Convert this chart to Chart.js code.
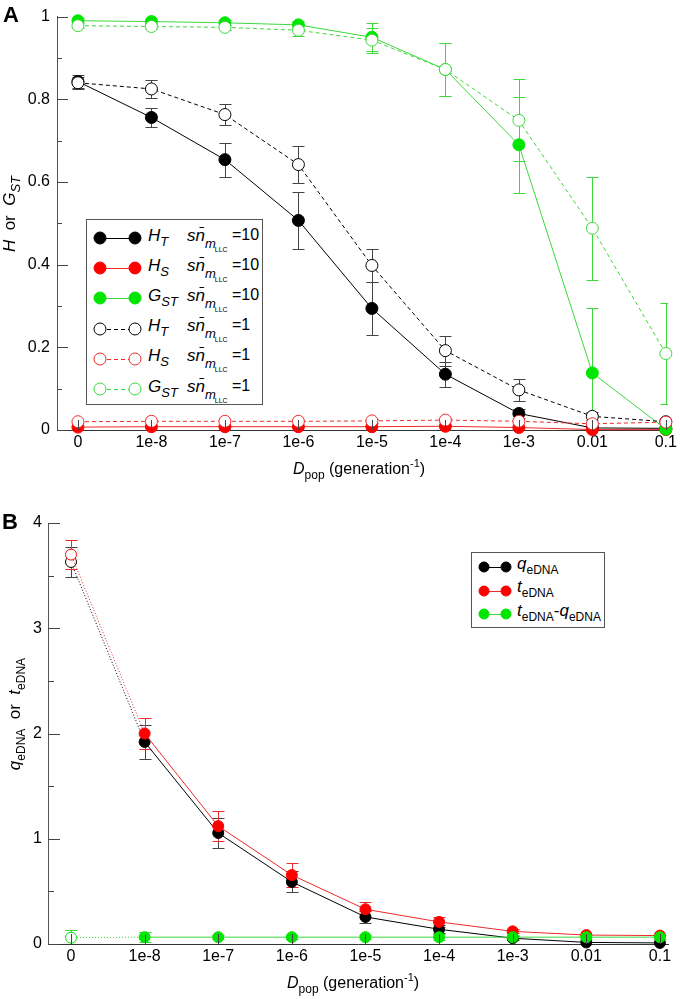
<!DOCTYPE html>
<html>
<head>
<meta charset="utf-8">
<script src="https://cdn.jsdelivr.net/npm/chart.js@4.4.1/dist/chart.umd.min.js"></script>
<style>
  body { margin: 0; background: #fff; font-family: "Liberation Sans", Arial, sans-serif; color: #000; }
  #wrap { position: relative; width: 680px; height: 999px; overflow: hidden; }
  canvas { position: absolute; left: 0; }
  .abs { position: absolute; white-space: nowrap; line-height: 1; }
  .letter { font-weight: bold; font-size: 22px; }
  .ttl { font-size: 16px; }
  .ytl { font-size: 17px; }
  .it { font-style: italic; }
  .sub { position: relative; font-size: 12px; top: 5px; }
  .sup { position: relative; font-size: 11px; top: -7px; }
  .lgbox { position: absolute; border: 1px solid #555; background: #fff; box-sizing: border-box; }
  .lgbox svg { position: absolute; }
</style>
</head>
<body>
<div id="wrap">
  <canvas id="chartA" width="680" height="500" style="top:0"></canvas>
  <canvas id="chartB" width="680" height="499" style="top:500px"></canvas>

  <div class="abs letter" style="left:3px;top:4px">A</div>
  <div class="abs letter" style="left:2px;top:511px">B</div>

  <div class="abs ttl" style="left:293px;top:461px"><span class="it">D</span><span class="sub">pop</span> (generation<span class="sup">-1</span>)</div>
  <div class="abs ttl" style="left:287px;top:975px"><span class="it">D</span><span class="sub">pop</span> (generation<span class="sup">-1</span>)</div>

  <div class="abs ytl" style="left:9px;top:214px;transform:translate(-50%,-50%) rotate(-90deg)"><span class="it">H</span>&nbsp; or &nbsp;<span class="it">G</span><span class="sub it" style="font-size:13px">ST</span></div>
  <div class="abs ytl" style="left:14px;top:714px;transform:translate(-50%,-50%) rotate(-90deg)"><span class="it">q</span><span class="sub">eDNA</span>&nbsp; or &nbsp;<span class="it">t</span><span class="sub">eDNA</span></div>

  <div id="legA" class="lgbox" style="left:86px;top:219px;width:177px;height:186px"></div>
  <div id="legB" class="lgbox" style="left:471px;top:552px;width:134px;height:76px"></div>
</div>

<script>
// x categories (dispersal rate)
const doseLabels = ['0', '1e-8', '1e-7', '1e-6', '1e-5', '1e-4', '1e-3', '0.01', '0.1'];

// panel A, s*n_mLLC = 10
const hT10 = [0.843, 0.756, 0.654, 0.507, 0.294, 0.135, 0.040, 0.005, 0.004];
const hT10Err = [0.016, 0.023, 0.041, 0.068, 0.065, 0.030, 0.010, 0.003, 0.003];
const hS10 = [0.007, 0.008, 0.008, 0.008, 0.008, 0.009, 0.006, 0.001, 0.001];
const hS10Err = [0.003, 0.003, 0.003, 0.003, 0.003, 0.003, 0.003, 0.002, 0.002];
const gST10 = [0.990, 0.988, 0.985, 0.980, 0.950, 0.872, 0.690, 0.138, 0.002];
const gST10Err = [0.006, 0.006, 0.006, 0.010, 0.034, 0.065, 0.116, 0.157, 0.004];

// panel A, s*n_mLLC = 1
const hT1 = [0.840, 0.825, 0.763, 0.642, 0.398, 0.192, 0.097, 0.033, 0.020];
const hT1Err = [0.015, 0.021, 0.025, 0.045, 0.040, 0.036, 0.026, 0.010, 0.010];
const hS1 = [0.020, 0.021, 0.021, 0.021, 0.022, 0.024, 0.021, 0.015, 0.019];
const hS1Err = [0.004, 0.004, 0.004, 0.004, 0.004, 0.004, 0.004, 0.004, 0.004];
const gST1 = [0.978, 0.976, 0.974, 0.967, 0.943, 0.872, 0.749, 0.488, 0.185];
const gST1Err = [0.006, 0.006, 0.006, 0.014, 0.030, 0.065, 0.099, 0.124, 0.121];

// panel B
const qEDNA = [3.63, 1.92, 1.055, 0.59, 0.257, 0.14, 0.055, 0.015, 0.010];
const qEDNAErr = [0.14, 0.16, 0.14, 0.10, 0.06, 0.04, 0.02, 0.01, 0.01];
const tEDNA = [3.70, 2.00, 1.12, 0.655, 0.33, 0.21, 0.12, 0.085, 0.080];
const tEDNAErr = [0.14, 0.15, 0.14, 0.11, 0.07, 0.05, 0.02, 0.01, 0.01];
const diffEDNA = [0.06, 0.065, 0.065, 0.065, 0.065, 0.065, 0.065, 0.065, 0.065];
const diffEDNAErr = [0.07, 0.05, 0.02, 0.02, 0.02, 0.03, 0.02, 0.02, 0.02];

const FONT = '"Liberation Sans", Arial, sans-serif';
const BLACK = '#000', RED = '#ff0000', GREEN = '#00e600';
const RED_LINE = '#ee2a2a', GREEN_LINE = '#3cd83c';

const pts = (arr) => arr.map((v, i) => ({ x: i, y: v }));

// error bars drawn under the markers
const errorBars = {
  id: 'errorBars',
  beforeDatasetsDraw(chart, args, opts) {
    const { ctx, chartArea: a, scales: { y } } = chart;
    ctx.save();
    ctx.beginPath();
    ctx.rect(a.left, a.top - 2, a.right - a.left, a.bottom - a.top + 2);
    ctx.clip();
    chart.data.datasets.forEach((ds, di) => {
      if (!ds.errors) return;
      const meta = chart.getDatasetMeta(di);
      ctx.strokeStyle = ds.errorColor;
      ctx.lineWidth = 1;
      ctx.beginPath();
      meta.data.forEach((pt, i) => {
        const e = ds.errors[i];
        if (!e) return;
        const v = ds.data[i].y;
        const x = Math.round(pt.x) + 0.5;
        const t = Math.round(y.getPixelForValue(v + e)) + 0.5;
        const b = Math.round(y.getPixelForValue(v - e)) + 0.5;
        ctx.moveTo(x, t); ctx.lineTo(x, b);
        if (b - t > 3) {
          ctx.moveTo(x - opts.cap, t); ctx.lineTo(x + opts.cap, t);
          ctx.moveTo(x - opts.cap, b); ctx.lineTo(x + opts.cap, b);
        }
      });
      ctx.stroke();
    });
    ctx.restore();
  }
};

// tick marks pointing into the plot
const innerTicks = {
  id: 'innerTicks',
  afterDraw(chart, args, opts) {
    const { ctx, scales: { x, y } } = chart;
    ctx.save();
    ctx.strokeStyle = opts.color;
    ctx.lineWidth = 1;
    ctx.beginPath();
    const n = Math.round((y.max - y.min) / opts.minor);
    const every = Math.round(opts.major / opts.minor);
    for (let k = 0; k <= n; k++) {
      const py = Math.round(y.getPixelForValue(y.min + k * opts.minor)) + 0.5;
      const len = k % every === 0 ? opts.majorLen : opts.minorLen;
      ctx.moveTo(y.right, py); ctx.lineTo(y.right + len, py);
    }
    doseLabels.forEach((_, i) => {
      const px = Math.round(x.getPixelForValue(i)) + 0.5;
      ctx.moveTo(px, x.top); ctx.lineTo(px, x.top - opts.xLen);
    });
    ctx.stroke();
    ctx.restore();
  }
};

function xAxis(min, max, h) {
  return {
    type: 'linear', min, max,
    grid: { display: false, drawTicks: false },
    border: { display: true, color: '#333', width: 1 },
    afterBuildTicks: (s) => { s.ticks = doseLabels.map((_, i) => ({ value: i })); },
    afterFit: (s) => { s.height = h; },
    ticks: {
      callback: (v) => doseLabels[v],
      color: '#000', font: { family: FONT, size: 16 },
      padding: 3, maxRotation: 0, autoSkip: false
    }
  };
}

function yAxis(min, max, step, w, pad) {
  return {
    type: 'linear', min, max,
    grid: { display: false, drawTicks: false },
    border: { display: true, color: '#555', width: 1 },
    afterFit: (s) => { s.width = w; },
    ticks: {
      stepSize: step, color: '#000', font: { family: FONT, size: 16 }, padding: pad,
      callback: (v) => String(+v.toFixed(2))
    }
  };
}

function seriesA(label, values, errors, color, lineColor, errColor, filled, order) {
  return {
    label, data: pts(values), errors, errorColor: errColor, order,
    borderColor: lineColor, borderWidth: 1, borderDash: filled ? [] : [4, 3],
    pointRadius: 6, pointBorderWidth: 1,
    pointBackgroundColor: filled ? color : '#fff',
    pointBorderColor: filled ? color : lineColor,
    tension: 0, clip: false, filled
  };
}

function seriesB(label, values, errors, color, lineColor, errColor, order) {
  return {
    label, data: pts(values), errors, errorColor: errColor, order,
    borderColor: lineColor, borderWidth: 1,
    segment: { borderDash: (c) => (c.p0DataIndex === 0 ? [1, 2] : undefined) },
    pointRadius: 5.5, pointBorderWidth: 1,
    pointBackgroundColor: (c) => (c.dataIndex === 0 ? '#fff' : color),
    pointBorderColor: color,
    tension: 0, clip: false
  };
}

const dsA = [
  seriesA('HT10', hT10, hT10Err, BLACK, BLACK, '#444', true, 5),
  seriesA('HS10', hS10, hS10Err, RED, RED_LINE, RED_LINE, true, 4),
  seriesA('GST10', gST10, gST10Err, GREEN, GREEN_LINE, GREEN_LINE, true, 3),
  seriesA('HT1', hT1, hT1Err, BLACK, BLACK, '#444', false, 2),
  seriesA('HS1', hS1, hS1Err, RED, RED_LINE, RED_LINE, false, 1),
  seriesA('GST1', gST1, gST1Err, GREEN, GREEN_LINE, GREEN_LINE, false, 0)
];

const dsB = [
  seriesB('q', qEDNA, qEDNAErr, BLACK, BLACK, '#444', 2),
  seriesB('t', tEDNA, tEDNAErr, RED, RED_LINE, RED_LINE, 1),
  seriesB('t-q', diffEDNA, diffEDNAErr, GREEN, GREEN_LINE, GREEN_LINE, 0)
];

const common = {
  responsive: false, animation: false, events: [],
  plugins: { legend: { display: false }, tooltip: { enabled: false } }
};

new Chart(document.getElementById('chartA'), {
  type: 'line',
  data: { datasets: dsA },
  options: {
    ...common,
    layout: { padding: { top: 8, right: 10, left: 0, bottom: 0 } },
    scales: { x: xAxis(-0.285, 8.03, 70), y: yAxis(0, 1, 0.2, 57, 7) },
    plugins: {
      ...common.plugins,
      errorBars: { cap: 6 },
      innerTicks: { color: '#444', minor: 0.1, major: 0.2, majorLen: 11, minorLen: 5, xLen: 10 }
    }
  },
  plugins: [errorBars, innerTicks]
});

new Chart(document.getElementById('chartB'), {
  type: 'line',
  data: { datasets: dsB },
  options: {
    ...common,
    layout: { padding: { top: 23, right: 12, left: 0, bottom: 0 } },
    scales: { x: xAxis(-0.3125, 8.11, 55), y: yAxis(0, 4, 1, 48, 6) },
    plugins: {
      ...common.plugins,
      errorBars: { cap: 6 },
      innerTicks: { color: '#444', minor: 0.5, major: 1, majorLen: 12, minorLen: 6, xLen: 10 }
    }
  },
  plugins: [errorBars, innerTicks]
});

// legends (HTML, with sub-/superscripts)
function swatch(x, cy, gap, r, color, lineColor, filled, dash) {
  const w = gap + 2 * r + 4;
  const y = r + 2;
  const c1 = r + 2, c2 = r + 2 + gap;
  return `<svg width="${w}" height="${2 * r + 4}" style="left:${x - c1}px;top:${cy - y}px">
    <line x1="${c1}" y1="${y + 0.5}" x2="${c2}" y2="${y + 0.5}" stroke="${lineColor}" stroke-width="1" ${dash ? 'stroke-dasharray="4 3"' : ''}/>
    <circle cx="${c1}" cy="${y}" r="${r}" fill="${filled ? color : '#fff'}" stroke="${filled ? color : lineColor}"/>
    <circle cx="${c2}" cy="${y}" r="${r}" fill="${filled ? color : '#fff'}" stroke="${filled ? color : lineColor}"/>
  </svg>`;
}

const legARows = [
  { sym: 'H', sub: 'T', val: '10' }, { sym: 'H', sub: 'S', val: '10' }, { sym: 'G', sub: 'ST', val: '10' },
  { sym: 'H', sub: 'T', val: '1' }, { sym: 'H', sub: 'S', val: '1' }, { sym: 'G', sub: 'ST', val: '1' }
];
let html = '';
legARows.forEach((r, i) => {
  const ds = dsA[i];
  const cy = 18 + i * 30.2;
  const col = ds.pointBackgroundColor === '#fff' ? ds.borderColor : ds.pointBackgroundColor;
  html += swatch(13, cy, 35, 6, col, ds.borderColor, ds.filled, !ds.filled);
  const top = cy - 11.5;
  html += `<div class="abs" style="left:61px;top:${top}px;font-size:17px"><span class="it">${r.sym}</span><span class="sub it" style="font-size:13px">${r.sub}</span></div>`;
  html += `<div class="abs" style="left:100px;top:${top}px;font-size:17px"><span class="it">sn&#x0304;</span><span class="sub it" style="font-size:13px;top:7px">m<span style="position:relative;font-style:normal;font-size:7px;top:4px;margin-left:-1px">LLC</span></span></div>`;
  html += `<div class="abs" style="left:145px;top:${top}px;font-size:16px">=${r.val}</div>`;
});
document.getElementById('legA').innerHTML = html;

const legBRows = [
  '<span class="it">q</span><span class="sub">eDNA</span>',
  '<span class="it">t</span><span class="sub">eDNA</span>',
  '<span class="it">t</span><span class="sub">eDNA</span>-<span class="it">q</span><span class="sub">eDNA</span>'
];
html = '';
legBRows.forEach((t, i) => {
  const ds = dsB[i];
  const cy = 14 + i * 23.5;
  html += swatch(12, cy, 22, 5, ds.pointBorderColor, ds.borderColor, true, false);
  html += `<div class="abs" style="left:45px;top:${cy - 12.5}px;font-size:17px">${t}</div>`;
});
document.getElementById('legB').innerHTML = html;
</script>
</body>
</html>
